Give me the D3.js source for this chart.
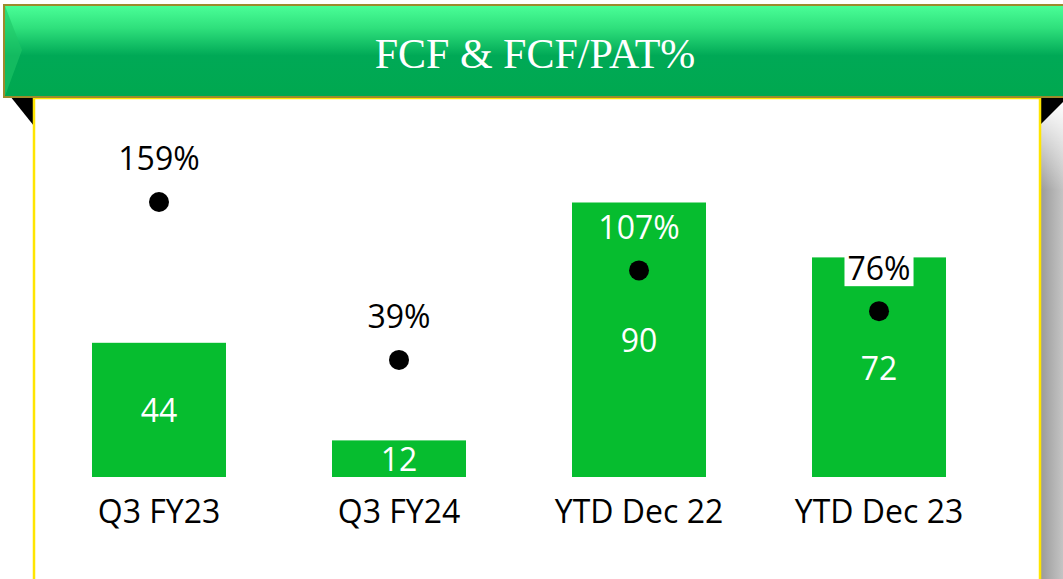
<!DOCTYPE html>
<html>
<head>
<meta charset="UTF-8">
<title>FCF & FCF/PAT%</title>
<style>
    body { margin: 0; padding: 0; background: #fff; overflow: hidden; }
    svg { display: block; }
    .lbl { font-family: "Open Sans", "Noto Sans", sans-serif; }
</style>
<script src="https://d3js.org/d3.v7.min.js"></script>
</head>
<body>
<div id="chart"></div>
<script>
    var categories = ["Q3 FY23", "Q3 FY24", "YTD Dec 22", "YTD Dec 23"];
    var fcf = [44, 12, 90, 72];
    var fcfPat = [159, 39, 107, 76];
    var title = "FCF & FCF/PAT%";

    var W = 1063, H = 579;
    var baseY = 477;

    var svg = d3.select("#chart").append("svg")
        .attr("width", W)
        .attr("height", H);

    var defs = svg.append("defs");

    var bannerGrad = defs.append("linearGradient")
        .attr("id", "bannerGrad")
        .attr("x1", 0).attr("y1", 0).attr("x2", 0).attr("y2", 1);
    bannerGrad.append("stop").attr("offset", "0%").attr("stop-color", "#4bff98");
    bannerGrad.append("stop").attr("offset", "25%").attr("stop-color", "#2fe07c");
    bannerGrad.append("stop").attr("offset", "55%").attr("stop-color", "#00a956");
    bannerGrad.append("stop").attr("offset", "100%").attr("stop-color", "#00a84f");

    var shadowGrad = defs.append("linearGradient")
        .attr("id", "shadowGrad")
        .attr("x1", 0).attr("y1", 0).attr("x2", 1).attr("y2", 0);
    shadowGrad.append("stop").attr("offset", "0%").attr("stop-color", "#9a9a9a");
    shadowGrad.append("stop").attr("offset", "100%").attr("stop-color", "#c4c4c4");

    var shadowTop = defs.append("linearGradient")
        .attr("id", "shadowTop")
        .attr("x1", 0).attr("y1", 0).attr("x2", 0).attr("y2", 1);
    shadowTop.append("stop").attr("offset", "0%").attr("stop-color", "#ffffff");
    shadowTop.append("stop").attr("offset", "100%").attr("stop-color", "#ffffff").attr("stop-opacity", 0);

    // right shadow strip
    svg.append("rect")
        .attr("x", 1040).attr("y", 100)
        .attr("width", 23).attr("height", H - 100)
        .attr("fill", "url(#shadowGrad)");
    svg.append("rect")
        .attr("x", 1040).attr("y", 100)
        .attr("width", 23).attr("height", 90)
        .attr("fill", "url(#shadowTop)");

    // folded corners under the banner
    svg.append("path")
        .attr("d", "M10,96 L34,96 L34,126 Z")
        .attr("fill", "#000");
    svg.append("path")
        .attr("d", "M1040,96 L1063,96 L1063,102 L1040,125 Z")
        .attr("fill", "#000");

    // white panel
    svg.append("rect")
        .attr("x", 34).attr("y", 98)
        .attr("width", 1006).attr("height", H)
        .attr("fill", "#fff")
        .attr("stroke", "#ffe500")
        .attr("stroke-width", 2.5);

    // banner
    svg.append("rect")
        .attr("x", 4).attr("y", 5)
        .attr("width", W + 10).attr("height", 92)
        .attr("fill", "url(#bannerGrad)")
        .attr("stroke", "#9c8a2c")
        .attr("stroke-width", 2);
    svg.append("path")
        .attr("d", "M5,6 L22,50 L5,96 Z")
        .attr("fill", "#1fc768")
        .attr("opacity", 0.6);
    svg.append("text")
        .attr("x", 535).attr("y", 54)
        .attr("text-anchor", "middle")
        .attr("dominant-baseline", "central")
        .attr("font-family", "'Liberation Serif', 'DejaVu Serif', serif")
        .attr("font-size", 42)
        .attr("fill", "#fff")
        .text(title);

    var x = d3.scaleBand()
        .domain(categories)
        .range([39, 999])
        .paddingInner(0.4417)
        .paddingOuter(0.2208);

    var y = d3.scaleLinear()
        .domain([0, 100])
        .range([baseY, baseY - 305]);

    var y2 = d3.scaleLinear()
        .domain([-50, 200])
        .range([baseY, 148]);

    var g = svg.append("g");

    g.selectAll("rect.bar")
        .data(fcf)
        .enter().append("rect")
        .attr("class", "bar")
        .attr("x", function(d, i) { return x(categories[i]); })
        .attr("y", function(d) { return y(d); })
        .attr("width", x.bandwidth())
        .attr("height", function(d) { return baseY - y(d); })
        .attr("fill", "#06bd2f");

    g.selectAll("text.val")
        .data(fcf)
        .enter().append("text")
        .attr("class", "val lbl")
        .attr("x", function(d, i) { return x(categories[i]) + x.bandwidth() / 2; })
        .attr("y", function(d) { return (y(d) + baseY) / 2; })
        .attr("text-anchor", "middle")
        .attr("dominant-baseline", "central")
        .attr("font-size", 32)
        .attr("fill", "#fff")
        .text(function(d) { return d; });

    g.selectAll("text.cat")
        .data(categories)
        .enter().append("text")
        .attr("class", "cat lbl")
        .attr("x", function(d) { return x(d) + x.bandwidth() / 2; })
        .attr("y", 510)
        .attr("text-anchor", "middle")
        .attr("dominant-baseline", "central")
        .attr("font-size", 32)
        .attr("fill", "#000")
        .text(function(d) { return d; });

    g.selectAll("circle.dot")
        .data(fcfPat)
        .enter().append("circle")
        .attr("class", "dot")
        .attr("cx", function(d, i) { return x(categories[i]) + x.bandwidth() / 2; })
        .attr("cy", function(d) { return y2(d); })
        .attr("r", 10)
        .attr("fill", "#000");

    // percentage labels; inside a bar they are white, the last one sits on a white box
    var pct = g.selectAll("g.pct")
        .data(fcfPat)
        .enter().append("g")
        .attr("class", "pct")
        .attr("transform", function(d, i) {
            return "translate(" + (x(categories[i]) + x.bandwidth() / 2) + "," + (y2(d) - 44) + ")";
        });

    pct.append("text")
        .attr("class", "lbl")
        .attr("text-anchor", "middle")
        .attr("dominant-baseline", "central")
        .attr("font-size", 32)
        .attr("fill", function(d, i) { return i === 2 ? "#fff" : "#000"; })
        .text(function(d) { return d + "%"; });

    pct.each(function(d, i) {
        if (i !== 3) return;
        var t = d3.select(this).select("text");
        var b = t.node().getBBox();
        d3.select(this).insert("rect", "text")
            .attr("x", b.x - 3)
            .attr("y", -14)
            .attr("width", b.width + 6)
            .attr("height", 33)
            .attr("fill", "#fff");
    });
</script>
</body>
</html>
